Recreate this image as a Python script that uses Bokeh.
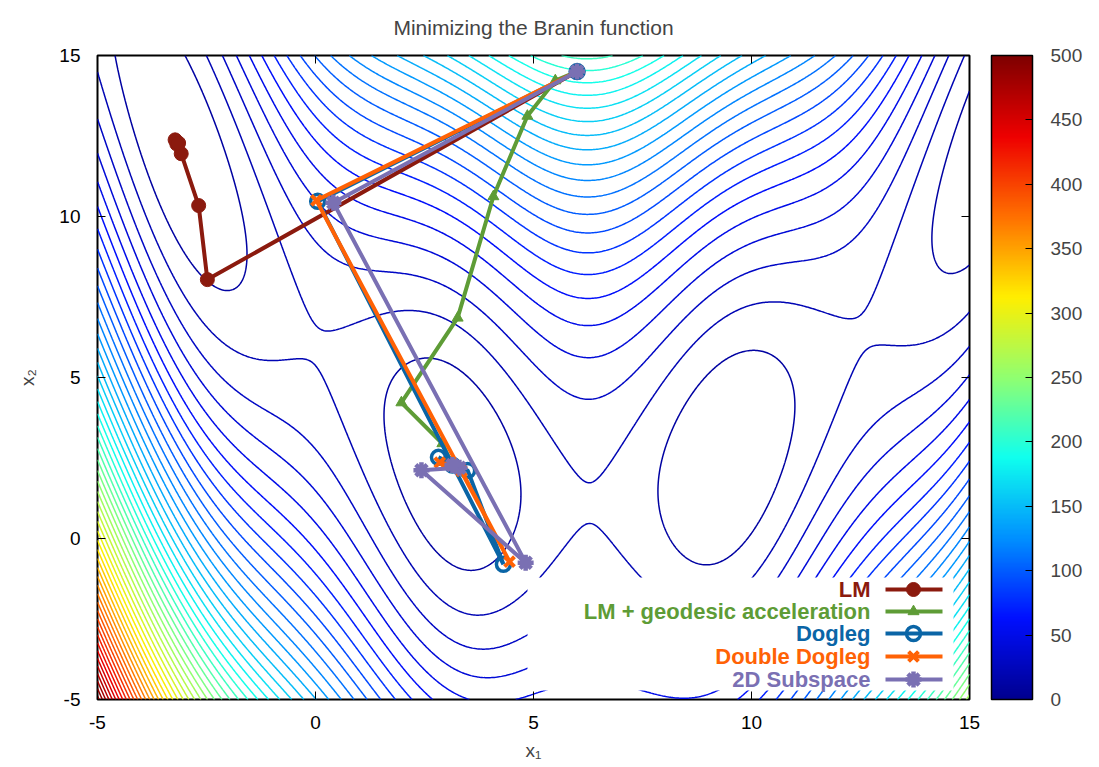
import numpy as np
from bokeh.plotting import figure
from bokeh.plotting.contour import contour_data
from bokeh.models import (ColorBar, LinearColorMapper, FixedTicker, Label, Range1d)
from bokeh.embed import file_html
from bokeh.resources import INLINE

# ---- Branin function parameters (standard) ----
br_a = 1.0
br_b = 5.1 / (4 * np.pi ** 2)
br_c = 5 / np.pi
br_r = 6.0
br_s = 10.0
br_t = 1 / (8 * np.pi)

contour_levels = list(range(10, 501, 10))
cb_ticks = list(range(0, 501, 50))
x_ticks = [-5, 0, 5, 10, 15]
y_ticks = [-5, 0, 5, 10, 15]

# ---- optimisation paths ----
lm_x1 = [6.0, -2.48, -2.68, -3.08, -3.18, -3.22, -3.14]
lm_x2 = [14.5, 8.04, 10.34, 11.95, 12.25, 12.38, 12.28]

geo_x1 = [6.0, 5.5, 4.86, 4.08, 3.26, 1.97, 2.91, 3.14]
geo_x2 = [14.5, 14.22, 13.12, 10.62, 6.85, 4.22, 2.95, 2.28]

dog_x1 = [6.0, 0.05, 4.31, 3.49, 2.82, 3.14]
dog_x2 = [14.5, 10.47, -0.80, 2.11, 2.52, 2.28]

ddog_x1 = [6.0, 0.02, 4.45, 3.35, 2.85, 3.14]
ddog_x2 = [14.5, 10.5, -0.72, 2.10, 2.36, 2.28]

sub_x1 = [6.0, 0.41, 4.82, 2.43, 3.30, 3.14]
sub_x2 = [14.5, 10.43, -0.75, 2.12, 2.20, 2.28]

series_names = ["LM", "LM + geodesic acceleration", "Dogleg", "Double Dogleg", "2D Subspace"]
series_colors = ["#8b1a0e", "#5e9c36", "#0a65a6", "#ff6205", "#7a70b3"]

# ---- jet palette (gnuplot style) ----
jet_anchor_pos = [0, 1, 2, 3, 4, 5, 6, 7, 8]
jet_anchor_col = ["#000090", "#000fff", "#0090ff", "#0fffee", "#90ff70",
                  "#ffee00", "#ff7000", "#ee0000", "#7f0000"]


def hex2rgb(h):
    return [int(h[i:i + 2], 16) for i in (1, 3, 5)]


def jet(f):
    pos = f * 8
    rgbs = np.array([hex2rgb(h) for h in jet_anchor_col], dtype=float)
    out = [np.interp(pos, jet_anchor_pos, rgbs[:, k]) for k in range(3)]
    return "#%02x%02x%02x" % tuple(int(round(v)) for v in out)


palette = [jet(i / 255) for i in range(256)]

g1 = np.linspace(-5, 15, 601)
g2 = np.linspace(-5, 15, 601)
G1, G2 = np.meshgrid(g1, g2)
Z = br_a * (G2 - br_b * G1 ** 2 + br_c * G1 - br_r) ** 2 + br_s * (1 - br_t) * np.cos(G1) + br_s

cdata = contour_data(x=g1, y=g2, z=Z, levels=contour_levels, want_fill=False, want_line=True)
ld = cdata.line_data
line_levels = list(ld.levels)
line_cols = [jet(float(lv) / 500) for lv in line_levels]

FONT = "Liberation Sans"
FW, FH = 872, 644

p = figure(frame_width=FW, frame_height=FH, output_backend="svg", toolbar_location=None,
           x_range=Range1d(-5, 15), y_range=Range1d(-5, 15),
           min_border_left=97, min_border_top=53, min_border_bottom=70, min_border_right=10,
           title="Minimizing the Branin function")
p.title.text_font = FONT
p.title.text_font_size = "21px"
p.title.text_font_style = "normal"
p.title.align = "center"
p.title.vertical_align = "top"
p.title.standoff = 30
p.extra_x_ranges = {"px": Range1d(0, FW)}
p.extra_y_ranges = {"py": Range1d(0, FH)}
p.grid.visible = False
p.outline_line_color = "black"
p.outline_line_width = 2

p.multi_line(xs=list(ld.xs), ys=list(ld.ys), line_color=line_cols, line_width=1.5)

for ax in (p.xaxis[0], p.yaxis[0]):
    ax.major_tick_in = 8
    ax.major_tick_out = 0
    ax.minor_tick_in = 0
    ax.minor_tick_out = 0
    ax.axis_line_color = None
    ax.major_label_text_font = FONT
    ax.major_label_text_font_size = "19px"
    ax.major_label_text_color = "black"
    ax.axis_label_text_font = FONT
    ax.axis_label_text_font_size = "19px"
    ax.axis_label_text_font_style = "normal"
p.xaxis.ticker = FixedTicker(ticks=x_ticks)
p.yaxis.ticker = FixedTicker(ticks=y_ticks)
p.xaxis.major_label_overrides = {t: str(t) for t in x_ticks}
p.yaxis.major_label_overrides = {t: str(t) for t in y_ticks}
p.xaxis.axis_label = "x₁"
p.yaxis.axis_label = "x₂"
p.xaxis.major_label_standoff = 16
p.xaxis.axis_label_standoff = 8
p.yaxis.major_label_standoff = 17
p.yaxis.axis_label_standoff = 18

# mirrored ticks on top and right edges
p.segment(x0=x_ticks, x1=x_ticks, y0=[FH] * len(x_ticks), y1=[FH - 8] * len(x_ticks),
          y_range_name="py", line_color="black", line_width=1)
p.segment(x0=[FW] * len(y_ticks), x1=[FW - 8] * len(y_ticks), y0=y_ticks, y1=y_ticks,
          x_range_name="px", line_color="black", line_width=1)

mapper = LinearColorMapper(palette=palette, low=0, high=500)
cb = ColorBar(color_mapper=mapper, ticker=FixedTicker(ticks=cb_ticks), width=41, height=FH,
              location=(22, 0), padding=0, margin=0, bar_line_color="black", bar_line_width=1.5,
              major_tick_in=7, major_tick_out=0, major_tick_line_color="black",
              major_label_text_font=FONT, major_label_text_font_size="19px",
              label_standoff=18, border_line_color=None, background_fill_color=None)
p.add_layout(cb, "right")

# legend background (white box, in frame pixel units)
p.quad(left=[430], right=[856], bottom=[9], top=[122], x_range_name="px", y_range_name="py",
       fill_color="white", line_color=None)

paths = [(lm_x1, lm_x2), (geo_x1, geo_x2), (dog_x1, dog_x2), (ddog_x1, ddog_x2), (sub_x1, sub_x2)]
marker_styles = [
    dict(marker="circle", size=14, line_width=1),
    dict(marker="triangle", size=11, line_width=1),
    dict(marker="circle", size=14, line_width=3.5, fill_color=None),
    dict(marker="x", size=14, line_width=4),
    dict(marker="asterisk", size=16, line_width=4.5),
]
row_y = [110, 88, 66, 43, 20]
for (xs, ys), col, ms, name, yy in zip(paths, series_colors, marker_styles, series_names, row_y):
    kw = dict(ms)
    kw.setdefault("fill_color", col)
    p.line(xs, ys, line_color=col, line_width=4)
    p.scatter(xs, ys, line_color=col, **kw)
    # legend sample
    p.line([788, 845], [yy, yy], x_range_name="px", y_range_name="py", line_color=col, line_width=4)
    p.scatter([816], [yy], x_range_name="px", y_range_name="py", line_color=col, **kw)
    p.add_layout(Label(x=773, y=yy, x_units="screen", y_units="screen", text=name,
                       text_align="right", text_baseline="middle", text_color=col,
                       text_font=FONT, text_font_size="22px", text_font_style="bold"))

open("out.html", "w").write(file_html(p, INLINE))
